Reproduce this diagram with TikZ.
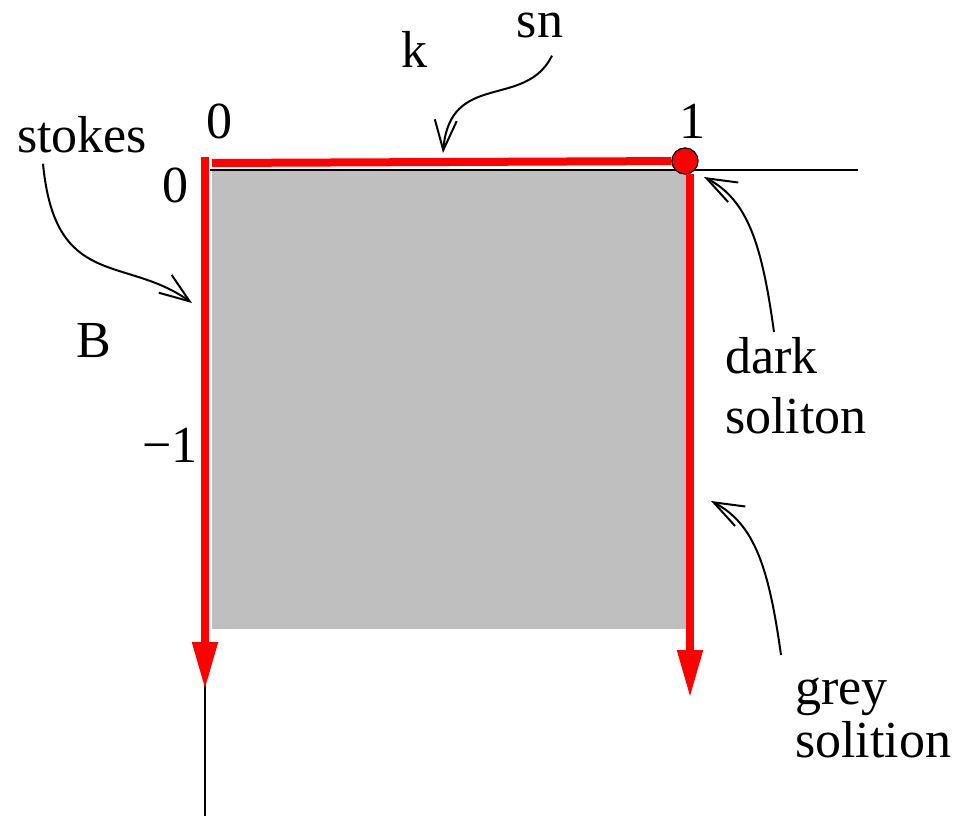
\documentclass[tikz,border=0pt]{standalone}
\usepackage{fontspec}
\setmainfont{Liberation Serif}
\usetikzlibrary{arrows.meta}
\definecolor{boxgrey}{RGB}{191,191,191}
\begin{document}
\begin{tikzpicture}[x=1pt,y=-1pt,
    lbl/.style={inner sep=0pt, font=\fontsize{52}{60}\selectfont},
    redpath/.style={draw=red, line width=8pt},
    redarrow/.style={redpath, -{Triangle[length=48pt,width=24pt]}},
    axis/.style={line width=1.5pt},
    note/.style={line width=2pt, -{Straight Barb[length=30pt,width=22pt]}}]
  \useasboundingbox (0,0) rectangle (953,816);
  % region and axes
  \fill[boxgrey] (212,171) rectangle (686,629);
  \draw[axis] (210,170) -- (858,170);
  \draw[axis] (205,170) -- (205,816);
  % red boundary
  \node[circle, fill=red, draw, line width=1pt, minimum size=26pt, inner sep=0pt] (dot) at (685,161) {};
  \draw[redpath] (212,163) -- (dot);
  \draw[redarrow] (205,157) -- (205,690);
  \draw[redarrow] (690,174) -- (690,698);
  \node[circle, fill=red, draw, line width=1pt, minimum size=26pt, inner sep=0pt] at (dot) {};
  % labels
  \node[lbl, anchor=base] (kzero) at (219,138) {0};
  \node[lbl, anchor=base] (kone) at (692,138) {1};
  \node[lbl, anchor=base] (bzero) at (175,202) {0};
  \node[lbl, anchor=base] (bminus) at (170,462) {−1};
  \node[lbl, anchor=base] (kname) at (414,67) {k};
  \node[lbl, anchor=base] (bname) at (94,357) {B};
  \node[lbl, anchor=base] (sn) at (540,38) {sn};
  \node[lbl, anchor=base west] (stokes) at (17,152) {stokes};
  \node[lbl, anchor=north west, align=left] (dark) at (725,337) {dark\\soliton};
  \node[lbl, anchor=north west, align=left] (grey) at (795,678) {grey\\[-7pt]solition};
  % pointers
  \coordinate (stokesend) at (192,303);
  \coordinate (snend) at (443,153);
  \coordinate (darkend) at (704,177);
  \coordinate (greyend) at (711,501);
  \draw[note] ([shift={(26,11)}]stokes.south west) .. controls (55,290) and (125,255) .. (stokesend);
  \draw[note] ([shift={(12,17)}]sn.south) .. controls (525,110) and (450,70) .. (snend);
  \draw[note] ([shift={(49,-5)}]dark.north west) .. controls (762,245) and (748,200) .. (darkend);
  \draw[note] ([shift={(-14,-23)}]grey.north west) .. controls (769,569) and (755,524) .. (greyend);
\end{tikzpicture}
\end{document}
